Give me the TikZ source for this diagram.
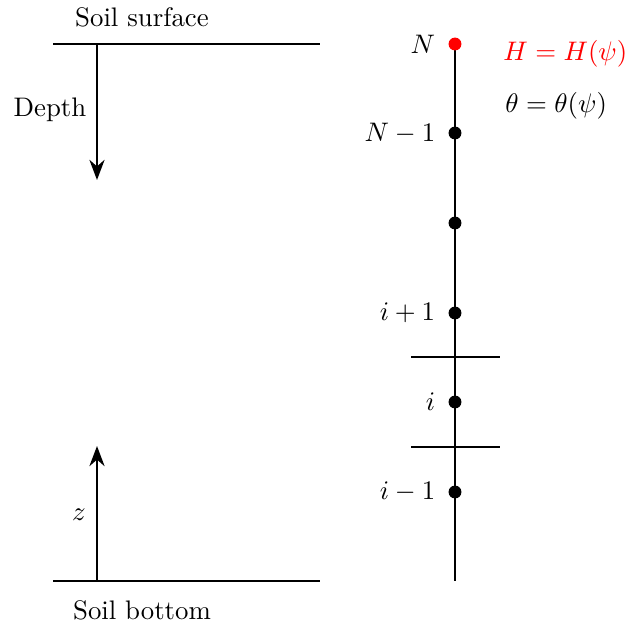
\documentclass[tikz,border=0pt]{standalone}
\usepackage{xcolor}
\usepackage{amsmath}
\usetikzlibrary{arrows.meta, positioning}
\tikzset{
  dot/.style={circle, fill=black, inner sep=0pt, minimum size=4.8pt},
  lbl/.style={inner sep=0pt},
  arr/.style={-Stealth, line width=1pt}
}

\begin{document}
\begin{tikzpicture}[x=0.373pt, y=-0.373pt, line width=1pt]
  \useasboundingbox (0,0) rectangle (633,627);
  % soil column, left side
  \coordinate (sl) at (53,44);  \coordinate (sr) at (320,44);
  \coordinate (bl) at (53,581); \coordinate (br) at (320,581);
  \coordinate (d0) at (97,44);  \coordinate (d1) at (97,180);
  \coordinate (z0) at (97,581); \coordinate (z1) at (97,446);
  \draw (sl)--(sr); \draw (bl)--(br);
  \draw[arr] (d0)--(d1); \draw[arr] (z0)--(z1);
  \node[lbl] (surf) at (142,17) {Soil surface};
  \node[lbl] (bott) at (142,610) {Soil bottom};
  \node[lbl] (dep) at (50,110) {Depth};
  \node[lbl] (zz) at (79,515) {$z$};
  % grid nodes
  \coordinate (ctop) at (455,44); \coordinate (cbot) at (455,581);
  \draw (ctop)--(cbot);
  \coordinate (t1l) at (411,357); \coordinate (t1r) at (500,357);
  \coordinate (t2l) at (411,447); \coordinate (t2r) at (500,447);
  \draw (t1l)--(t1r); \draw (t2l)--(t2r);
  \node[dot,fill=red] (nN) at (455,44) {};
  \node[dot] (nNm) at (455,133) {};
  \node[dot] (nmid) at (455,223) {};
  \node[dot] (nip) at (455,313) {};
  \node[dot] (ni) at (455,402) {};
  \node[dot] (nim) at (455,492) {};
  \node[lbl, left=4pt of nN] (lN) {$N$};
  \node[lbl, left=4pt of nNm] (lNm) {$N-1$};
  \node[lbl, left=4pt of nip] (lip) {$i+1$};
  \node[lbl, left=4pt of ni] (li) {$i$};
  \node[lbl, left=4pt of nim] (lim) {$i-1$};
  \node[lbl, anchor=west, text=red] (hH) at (502,54) {$H=H(\psi)$};
  \node[lbl, anchor=west] (th) at (504,106) {$\theta=\theta(\psi)$};
\end{tikzpicture}
\end{document}
